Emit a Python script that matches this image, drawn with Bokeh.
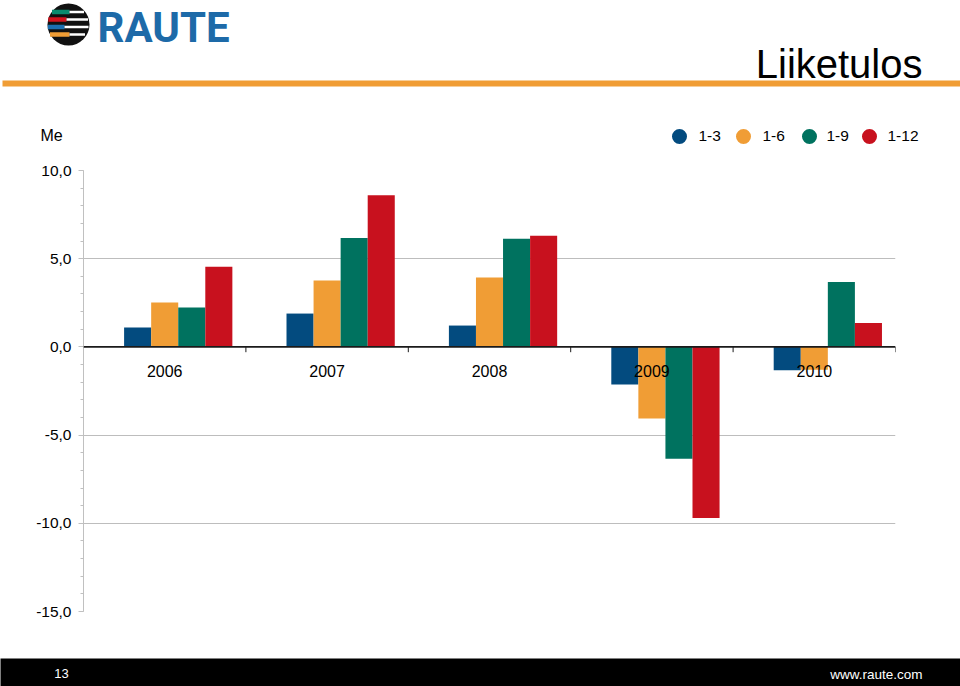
from bokeh.plotting import figure
from bokeh.layouts import column
from bokeh.models import Range1d, FixedTicker, Span
from bokeh.core.properties import value
from bokeh.embed import file_html
from bokeh.resources import INLINE

# ---------------- data ----------------
years = ["2006", "2007", "2008", "2009", "2010"]
series_names = ["1-3", "1-6", "1-9", "1-12"]
q1 = [1.10, 1.89, 1.21, -2.13, -1.33]
h1 = [2.51, 3.76, 3.93, -4.06, -1.30]
q3 = [2.23, 6.17, 6.13, -6.34, 3.68]
fy = [4.55, 8.60, 6.30, -9.70, 1.36]
series_values = [q1, h1, q3, fy]
y_ticks = [-15, -10, -5, 0, 5, 10]
y_tick_labels = ["-15,0", "-10,0", "-5,0", "0,0", "5,0", "10,0"]
y_unit = "Me"
title_text = "Liiketulos"
brand = "RAUTE"
page_no = "13"
footer_url = "www.raute.com"

# ---------------- style ----------------
colors = ["#034b7f", "#f09d35", "#00725f", "#c8111e"]
FONT = value("Liberation Sans")
W = 960
HEADER_H = 160
MAIN_H = 498
FOOT_H = 28

# ---------------- header ----------------
head = figure(width=W, height=HEADER_H, x_range=Range1d(0, W), y_range=Range1d(HEADER_H, 0),
              x_axis_location=None, y_axis_location=None, toolbar_location=None,
              output_backend="svg", min_border=0, outline_line_color=None, frame_align=False)
head.grid.visible = False

# logo
head.circle(x=[68], y=[24], radius=21, fill_color="#111111", line_color=None)
stripe_y = [11.5, 19.0, 26.5, 34.0]
stripe_left = [51.5, 47.8, 47.3, 49.5]
stripe_mid = [69, 66, 64, 69]
stripe_right = [83.5, 87.5, 88.0, 84.5]
logo_cols = ["#0a8a6e", "#d2121c", "#1b6fb0", "#f09d35"]
head.hbar(y=stripe_y, left=stripe_left, right=stripe_mid, height=4.5, fill_color=logo_cols, line_color=None)
head.hbar(y=stripe_y, left=stripe_mid, right=stripe_right, height=2.5, fill_color="white", line_color=None)
head.text(x=[97], y=[27], text=[brand], text_font=value("Roboto"), text_font_style="bold",
          text_font_size="42px", text_color="#1d6aa8", text_baseline="alphabetic", text_align="left")

# title + rule
head.hbar(y=[83], left=[2], right=[W], height=6, fill_color="#f09d35", line_color=None)
head.text(x=[922], y=[63], text=[title_text], text_font=FONT, text_font_size="40px",
          text_color="black", text_align="right", text_baseline="alphabetic")

# unit
head.text(x=[40], y=[135], text=[y_unit], text_font=FONT, text_font_size="16px",
          text_color="black", text_align="left", text_baseline="alphabetic")

# legend
legend_x = [679, 743, 809, 869]
label_x = [698, 762, 826, 887]
head.scatter(x=legend_x, y=[136] * 4, marker="circle", size=15, fill_color=colors, line_color=None)
head.text(x=label_x, y=[135.5] * 4, text=series_names, text_font=FONT, text_font_size="15.5px",
          text_color="black", text_align="left", text_baseline="alphabetic")

# ---------------- main chart ----------------
p = figure(width=W, height=MAIN_H, x_range=Range1d(0, 5), y_range=Range1d(-15, 10),
           x_axis_location=None, toolbar_location=None, output_backend="svg",
           min_border_left=83, min_border_right=65, min_border_top=10, min_border_bottom=47,
           outline_line_color=None, frame_align=False)

bar_w = 1 / 6
for j, (vals, c) in enumerate(zip(series_values, colors)):
    xs = [i + 1 / 3 + j * bar_w for i in range(len(years))]
    p.vbar(x=xs, top=vals, bottom=0, width=bar_w, fill_color=c, line_color=None)

ticker = FixedTicker(ticks=y_ticks, minor_ticks=list(range(-15, 11)))
p.yaxis.ticker = ticker
p.yaxis.major_label_overrides = {t: l for t, l in zip(y_ticks, y_tick_labels)}
p.yaxis.axis_line_color = "#c0c0c0"
p.yaxis.major_tick_line_color = "#c0c0c0"
p.yaxis.minor_tick_line_color = "#c0c0c0"
p.yaxis.major_tick_out = 5
p.yaxis.major_tick_in = 0
p.yaxis.minor_tick_out = 3
p.yaxis.minor_tick_in = 0
p.yaxis.major_label_standoff = 7
p.yaxis.major_label_text_font = "Liberation Sans"
p.yaxis.major_label_text_font_size = "15.5px"
p.yaxis.major_label_text_color = "black"

p.xgrid.visible = False
p.ygrid.grid_line_color = "#bdbdbd"
p.ygrid.grid_line_width = 1

p.add_layout(Span(location=0, dimension="width", line_color="#1a1a1a", line_width=1.6))

bounds = list(range(len(years) + 1))
p.segment(x0=bounds, y0=[0] * len(bounds), x1=bounds, y1=[-0.3] * len(bounds),
          line_color="#1a1a1a", line_width=1)

p.text(x=[i + 0.5 for i in range(len(years))], y=[0] * len(years), text=years,
       text_font=FONT, text_font_size="16px", text_color="black",
       text_align="center", text_baseline="alphabetic", y_offset=24)

# ---------------- footer ----------------
foot = figure(width=W, height=FOOT_H, x_range=Range1d(0, W), y_range=Range1d(FOOT_H, 0),
              x_axis_location=None, y_axis_location=None, toolbar_location=None,
              output_backend="svg", min_border=0, outline_line_color=None,
              background_fill_color="black", border_fill_color="black", frame_align=False)
foot.grid.visible = False
foot.text(x=[61], y=[15], text=[page_no], text_font=FONT, text_font_size="13px",
          text_color="white", text_align="center", text_baseline="alphabetic")
foot.text(x=[922], y=[16], text=[footer_url], text_font=FONT, text_font_size="13.5px",
          text_color="white", text_align="right", text_baseline="alphabetic")

layout = column(head, p, foot, spacing=0)
open("out.html", "w").write(file_html(layout, INLINE))
